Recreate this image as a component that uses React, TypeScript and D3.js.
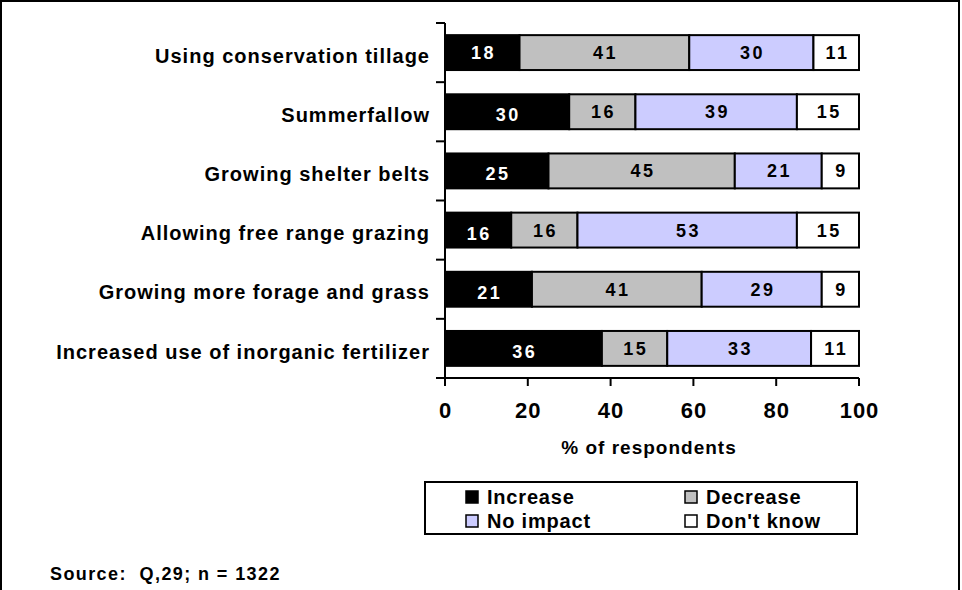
import * as d3 from 'd3';

const categories = [
  'Using conservation tillage',
  'Summerfallow',
  'Growing shelter belts',
  'Allowing free range grazing',
  'Growing more forage and grass',
  'Increased use of inorganic fertilizer',
];
const seriesNames = ['Increase', 'Decrease', 'No impact', "Don't know"];
const increase = [18, 30, 25, 16, 21, 36];
const decrease = [41, 16, 45, 16, 41, 15];
const noImpact = [30, 39, 21, 53, 29, 33];
const dontKnow = [11, 15, 9, 15, 9, 11];
const xTicks = [0, 20, 40, 60, 80, 100];
const colors = ['#000000', '#c0c0c0', '#ccccff', '#ffffff'];

const FONT = "Arial, 'Liberation Sans', sans-serif";

export default function App() {
  const width = 962;
  const height = 590;
  const plot = { left: 445, right: 859, top: 23, bottom: 378 };

  const rows = categories.map((c, i) => ({
    category: c,
    Increase: increase[i],
    Decrease: decrease[i],
    'No impact': noImpact[i],
    "Don't know": dontKnow[i],
  }));

  // 100% stacked: each row is normalised to its own total
  const stacked = d3
    .stack<any>()
    .keys(seriesNames)
    .offset(d3.stackOffsetExpand)(rows);

  const x = d3.scaleLinear().domain([0, 100]).range([plot.left, plot.right]);
  const y = d3
    .scaleBand()
    .domain(categories)
    .range([plot.top, plot.bottom])
    .paddingInner(0.41)
    .paddingOuter(0.205);
  const step = y.step();
  const boundaries = d3.range(categories.length + 1).map(i => plot.top + i * step);

  const legendBox = { x: 425, y: 482, w: 432, h: 52 };
  const legendCols = [466, 685];
  const legendRows = [497, 521];

  return (
    <>
      <style>{`body{margin:0}`}</style>
      <svg width={width} height={height} style={{ display: 'block' }} fontFamily={FONT} fontWeight="bold">
        <rect x={1} y={1} width={958} height={height + 10} fill="white" stroke="black" strokeWidth={2} />

        {/* bars */}
        {stacked.map((s, si) => (
          <g key={s.key}>
            {s.map((d, ri) => {
              const x0 = x(d[0] * 100);
              const x1 = x(d[1] * 100);
              const yy = y(categories[ri])!;
              const val = (d.data as any)[s.key];
              return (
                <g key={ri}>
                  <rect
                    x={x0}
                    y={yy}
                    width={x1 - x0}
                    height={y.bandwidth()}
                    fill={colors[si]}
                    stroke="black"
                    strokeWidth={2}
                  />
                  <text
                    x={(x0 + x1) / 2}
                    y={yy + y.bandwidth() / 2 + (si === 0 && ri > 0 ? 3 : 0)}
                    dx={1.25}
                    dy="0.36em"
                    textAnchor="middle"
                    fontSize={18}
                    letterSpacing={2.5}
                    fill={si === 0 ? 'white' : 'black'}
                  >
                    {val}
                  </text>
                </g>
              );
            })}
          </g>
        ))}

        {/* category axis */}
        <line x1={plot.left} x2={plot.left} y1={plot.top} y2={plot.bottom} stroke="black" strokeWidth={2} />
        {boundaries.map((b, i) => (
          <line key={i} x1={plot.left - 9} x2={plot.left} y1={b} y2={b} stroke="black" strokeWidth={2} />
        ))}
        {categories.map(c => (
          <text
            key={c}
            x={430}
            y={y(c)! + y.bandwidth() / 2 + 3}
            dy="0.36em"
            textAnchor="end"
            fontSize={20}
            letterSpacing={1}
          >
            {c}
          </text>
        ))}

        {/* value axis */}
        <line x1={plot.left - 9} x2={plot.right} y1={plot.bottom} y2={plot.bottom} stroke="black" strokeWidth={2} />
        {xTicks.map(t => (
          <g key={t}>
            <line x1={x(t)} x2={x(t)} y1={plot.bottom} y2={plot.bottom + 8} stroke="black" strokeWidth={2} />
            <text x={x(t)} y={418} dx={0.5} textAnchor="middle" fontSize={22} letterSpacing={1}>
              {t}
            </text>
          </g>
        ))}
        <text x={649} y={454} textAnchor="middle" fontSize={19} letterSpacing={1}>
          % of respondents
        </text>

        {/* legend */}
        <rect x={legendBox.x} y={legendBox.y} width={legendBox.w} height={legendBox.h} fill="white" stroke="black" strokeWidth={2} />
        {seriesNames.map((name, i) => {
          const lx = legendCols[i % 2];
          const ly = legendRows[Math.floor(i / 2)];
          return (
            <g key={name}>
              <rect x={lx} y={ly - 6} width={12} height={12} fill={colors[i]} stroke="black" strokeWidth={1.5} />
              <text x={lx + 21} y={ly} dy="0.36em" fontSize={20} letterSpacing={0.8}>
                {name}
              </text>
            </g>
          );
        })}

        <text x={50} y={580} fontSize={18} letterSpacing={1.4} style={{ whiteSpace: 'pre' }}>
          {'Source:  Q,29; n = 1322'}
        </text>
      </svg>
    </>
  );
}
